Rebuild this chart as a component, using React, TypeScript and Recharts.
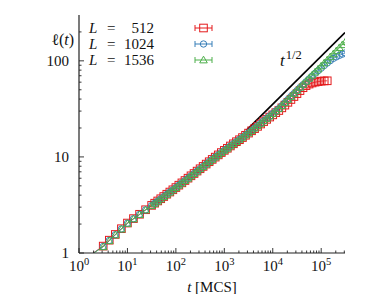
import React from 'react';
import { ComposedChart, Line, XAxis, YAxis } from 'recharts';

// sampling times (MCS): coarse at early times, 1/16 decade later on
const times = [
  1, 3.16, 4.22, 5.62, 7.5, 10, 13.3, 17.8, 23.7,
  31.6, 36.5, 42.2, 48.7, 56.2, 64.9, 75.0, 86.6,
  100, 115, 133, 154, 178, 205, 237, 274,
  316, 365, 422, 487, 562, 649, 750, 866,
  1000, 1155, 1334, 1540, 1778, 2054, 2371, 2738,
  3162, 3652, 4217, 4870, 5623, 6494, 7499, 8660,
  10000, 11548, 13335, 15399, 17783, 20535, 23714, 27384,
  31623, 36517, 42170, 48697, 56234, 64938, 74989, 86596,
  100000, 115478, 133352, 153993, 177828, 205353, 237137, 273842,
  316228,
];

const len512 = [
  0.79, 1.18, 1.36, 1.56, 1.79, 2.05, 2.28, 2.53, 2.82,
  3.13, 3.3, 3.48, 3.67, 3.87, 4.09, 4.31, 4.55,
  4.8, 5.08, 5.37, 5.68, 6.01, 6.36, 6.72, 7.12,
  7.53, 7.96, 8.42, 8.91, 9.42, 9.95, 10.5, 11.1,
  11.7, 12.3, 13.0, 13.7, 14.4, 15.1, 15.9, 16.8,
  17.7, 18.7, 19.7, 20.8, 22.0, 23.3, 24.6, 26.0,
  27.4, 28.9, 30.4, 32.4, 34.6, 37.0, 39.6, 42.5,
  45.6, 49.0, 52.5, 55.2, 57.3, 58.8, 60.0, 60.8,
  61.5, 61.8, 62.0,
];
const len1024 = [
  0.79, 1.17, 1.35, 1.55, 1.78, 2.04, 2.27, 2.52, 2.81,
  3.12, 3.29, 3.47, 3.66, 3.86, 4.08, 4.3, 4.54,
  4.79, 5.07, 5.36, 5.67, 6.0, 6.35, 6.71, 7.11,
  7.52, 7.95, 8.41, 8.91, 9.42, 9.95, 10.5, 11.1,
  11.7, 12.3, 13.0, 13.7, 14.4, 15.2, 16.0, 16.9,
  17.8, 18.8, 19.9, 21.1, 22.3, 23.7, 25.1, 26.6,
  28.2, 30.0, 31.8, 34.1, 36.7, 39.5, 42.5, 45.6,
  49.0, 52.6, 56.4, 60.5, 64.8, 69.4, 74.2, 79.0,
  84.0, 89.5, 95.0, 100.5, 106, 110, 114, 117.5,
  121,
];
const len1536 = [
  0.79, 1.16, 1.34, 1.54, 1.77, 2.03, 2.26, 2.51, 2.8,
  3.11, 3.28, 3.46, 3.65, 3.85, 4.07, 4.29, 4.53,
  4.78, 5.06, 5.35, 5.66, 5.99, 6.34, 6.7, 7.1,
  7.51, 7.94, 8.4, 8.9, 9.41, 9.94, 10.5, 11.1,
  11.7, 12.3, 13.0, 13.7, 14.4, 15.2, 16.0, 16.9,
  17.8, 18.8, 19.9, 21.1, 22.3, 23.7, 25.1, 26.6,
  28.2, 30.0, 31.8, 34.2, 36.8, 39.6, 42.6, 45.8,
  49.3, 53.0, 57.0, 61.3, 65.9, 71.0, 76.4, 82.1,
  88.3, 95.0, 102, 110, 118, 127, 137, 147,
  158,
];

// t^{1/2} guide line
const guideT = [2850, 310000];
const guideL = [18.9, 197];

const xTicks = [
  1, 2, 3, 4, 5, 6, 7, 8, 9, 10, 20, 30, 40, 50, 60, 70, 80, 90, 100, 200, 300, 400, 500, 600, 700, 800, 900,
  1000, 2000, 3000, 4000, 5000, 6000, 7000, 8000, 9000, 10000, 20000, 30000, 40000, 50000, 60000, 70000, 80000,
  90000, 100000, 200000, 300000,
];
const yTicks = [1, 2, 3, 4, 5, 6, 7, 8, 9, 10, 20, 30, 40, 50, 60, 70, 80, 90, 100, 200];

const RED = '#e41a1c';
const BLUE = '#377eb8';
const GREEN = '#4daf4a';
const AXIS = '#222';
const FONT = '"Liberation Serif", "DejaVu Serif", serif';

const zip = (ts: number[], ls: number[]) => ls.map((l, i) => ({ t: ts[i], l }));

const isDecade = (v: number) => Math.abs(Math.log10(v) - Math.round(Math.log10(v))) < 1e-9;

function Square({ cx, cy, color }: any) {
  if (cx == null || cy == null) return null;
  return <rect x={cx - 3.8} y={cy - 3.8} width={7.6} height={7.6} fill="none" stroke={color} strokeWidth={1} />;
}
function Circle({ cx, cy, color }: any) {
  if (cx == null || cy == null) return null;
  return <circle cx={cx} cy={cy} r={3.2} fill="none" stroke={color} strokeWidth={1} />;
}
function Triangle({ cx, cy, color }: any) {
  if (cx == null || cy == null) return null;
  const h = 3.8;
  return (
    <polygon
      points={`${cx},${cy - h} ${cx - h},${cy + h * 0.75} ${cx + h},${cy + h * 0.75}`}
      fill="none"
      stroke={color}
      strokeWidth={1}
    />
  );
}

function BottomTick({ x, y, payload }: any) {
  const v = payload.value;
  const major = isDecade(v);
  return (
    <g>
      <line x1={x} y1={y} x2={x} y2={y - (major ? 5 : 2.5)} stroke={AXIS} strokeWidth={0.9} />
      {major && (
        <text x={x} y={y + 18} textAnchor="middle" fontFamily={FONT} fontSize={15} fill="#111">
          10
          <tspan dy={-6} fontSize={10.5}>
            {Math.round(Math.log10(v))}
          </tspan>
        </text>
      )}
    </g>
  );
}
function TopTick({ x, y, payload }: any) {
  const major = isDecade(payload.value);
  return <line x1={x} y1={y} x2={x} y2={y + (major ? 5 : 2.5)} stroke={AXIS} strokeWidth={0.9} />;
}
function LeftTick({ x, y, payload }: any) {
  const v = payload.value;
  const major = isDecade(v);
  return (
    <g>
      <line x1={x} y1={y} x2={x + (major ? 5 : 2.5)} y2={y} stroke={AXIS} strokeWidth={0.9} />
      {major && (
        <text x={x - 10} y={y + 5} textAnchor="end" fontFamily={FONT} fontSize={15} fill="#111">
          {v}
        </text>
      )}
    </g>
  );
}
function RightTick({ x, y, payload }: any) {
  const major = isDecade(payload.value);
  return <line x1={x} y1={y} x2={x - (major ? 5 : 2.5)} y2={y} stroke={AXIS} strokeWidth={0.9} />;
}

function LegendRow({ y, label, color, Mark }: any) {
  return (
    <g fontFamily={FONT} fontSize={15} fill="#111">
      <text x={81} y={y + 5} fontStyle="italic">
        L
      </text>
      <text x={99} y={y + 5}>
        =
      </text>
      <text x={146} y={y + 5} textAnchor="end">
        {label}
      </text>
      <line x1={187} y1={y} x2={204} y2={y} stroke={color} strokeWidth={1} />
      <line x1={187} y1={y - 3} x2={187} y2={y + 3} stroke={color} strokeWidth={1} />
      <line x1={204} y1={y - 3} x2={204} y2={y + 3} stroke={color} strokeWidth={1} />
      <Mark cx={195.5} cy={y} color={color} />
    </g>
  );
}

export default function App() {
  const d512 = zip(times, len512);
  const d1024 = zip(times, len1024);
  const d1536 = zip(times, len1536);
  const guide = zip(guideT, guideL);

  const axisCommon = {
    type: 'number' as const,
    scale: 'log' as const,
    allowDataOverflow: true,
    tickSize: 0,
    tickMargin: 0,
    tickLine: false,
    interval: 0 as const,
    axisLine: { stroke: AXIS, strokeWidth: 1.2 },
  };

  return (
    <div style={{ position: 'relative', width: 358, height: 286 }}>
      <ComposedChart width={358} height={286} margin={{ top: 7, right: 21, bottom: 0, left: 0 }}>
        <XAxis xAxisId="b" dataKey="t" domain={[1, 310000]} ticks={xTicks} height={41} tick={BottomTick} {...axisCommon} />
        <XAxis xAxisId="top" orientation="top" dataKey="t" domain={[1, 310000]} ticks={xTicks} height={0} tick={TopTick} {...axisCommon} />
        <YAxis yAxisId="l" dataKey="l" domain={[1, 300]} ticks={yTicks} width={71} tick={LeftTick} {...axisCommon} />
        <YAxis yAxisId="r" orientation="right" dataKey="l" domain={[1, 300]} ticks={yTicks} width={0} tick={RightTick} {...axisCommon} />
        <Line
          xAxisId="b"
          yAxisId="l"
          data={d512}
          dataKey="l"
          stroke={RED}
          strokeWidth={0.8}
          isAnimationActive={false}
          dot={(p: any) => <Square key={p.index} cx={p.cx} cy={p.cy} color={RED} />}
        />
        <Line
          xAxisId="b"
          yAxisId="l"
          data={d1024}
          dataKey="l"
          stroke={BLUE}
          strokeWidth={0.8}
          isAnimationActive={false}
          dot={(p: any) => <Circle key={p.index} cx={p.cx} cy={p.cy} color={BLUE} />}
        />
        <Line
          xAxisId="b"
          yAxisId="l"
          data={d1536}
          dataKey="l"
          stroke={GREEN}
          strokeWidth={0.8}
          isAnimationActive={false}
          dot={(p: any) => <Triangle key={p.index} cx={p.cx} cy={p.cy} color={GREEN} />}
        />
        <Line
          xAxisId="b"
          yAxisId="l"
          data={guide}
          dataKey="l"
          stroke="#000"
          strokeWidth={1.7}
          dot={false}
          isAnimationActive={false}
        />
      </ComposedChart>
      <svg width={358} height={286} style={{ position: 'absolute', left: 0, top: 0, pointerEvents: 'none' }}>
        <text x={66} y={37} textAnchor="end" fontFamily={FONT} fontSize={16} fill="#111">
          ℓ(<tspan fontStyle="italic">t</tspan>)
        </text>
        <LegendRow y={20} label="512" color={RED} Mark={Square} />
        <LegendRow y={36} label="1024" color={BLUE} Mark={Circle} />
        <LegendRow y={52} label="1536" color={GREEN} Mark={Triangle} />
        <text x={272} y={58} fontFamily={FONT} fontSize={17} fill="#111">
          <tspan fontStyle="italic">t</tspan>
          <tspan dy={-7} dx={1} fontSize={12.5}>
            1/2
          </tspan>
        </text>
        <text x={204} y={284} textAnchor="middle" fontFamily={FONT} fontSize={15} fill="#111">
          <tspan fontStyle="italic">t</tspan> [MCS]
        </text>
      </svg>
    </div>
  );
}
